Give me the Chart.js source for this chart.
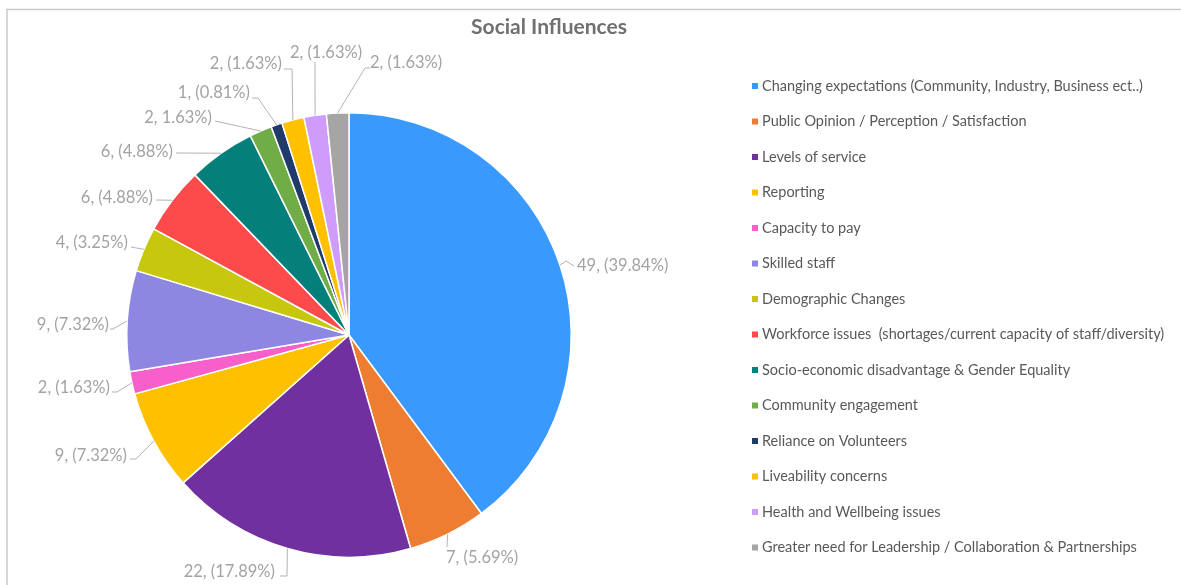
<!DOCTYPE html>
<html>
<head>
<meta charset="utf-8">
<title>Social Influences</title>
<script src="https://cdn.jsdelivr.net/npm/chart.js@4.4.1/dist/chart.umd.min.js"></script>
<style>
  html, body { margin: 0; padding: 0; background: #fff; }
  #chart { display: block; }
</style>
</head>
<body>
<canvas id="chart" width="1181" height="585"></canvas>
<script>
const categories = [
  'Changing expectations (Community, Industry, Business ect..)',
  'Public Opinion / Perception / Satisfaction',
  'Levels of service',
  'Reporting',
  'Capacity to pay',
  'Skilled staff',
  'Demographic Changes',
  'Workforce issues  (shortages/current capacity of staff/diversity)',
  'Socio-economic disadvantage & Gender Equality',
  'Community engagement',
  'Reliance on Volunteers',
  'Liveability concerns',
  'Health and Wellbeing issues',
  'Greater need for Leadership / Collaboration & Partnerships'
];
const counts = [49, 7, 22, 9, 2, 9, 4, 6, 6, 2, 1, 2, 2, 2];
const percentLabels = ['39.84', '5.69', '17.89', '7.32', '1.63', '7.32', '3.25', '4.88', '4.88', '1.63', '0.81', '1.63', '1.63', '1.63'];
const sliceColors = [
  '#3a99fd', '#ed7d31', '#7030a0', '#ffc000', '#f75fcb', '#8e87e2', '#c7c80d',
  '#fd4b4b', '#047f79', '#70ad47', '#203a6c', '#ffc000', '#cf9cfb', '#a5a5a5'
];

// where each value label sits and the bend points of its leader line
const labelLayout = [
  { x: 577, y: 266, align: 'left',   bend: [[566, 261], [574, 266]] },
  { x: 446, y: 558, align: 'left',   bend: [[447, 547]] },
  { x: 275, y: 572, align: 'right',  bend: [[287, 576], [280, 576]] },
  { x: 127, y: 456, align: 'right',  bend: [[136, 459], [130, 459]] },
  { x: 110, y: 388, align: 'right',  bend: [[117, 392], [112, 392]] },
  { x: 109, y: 325, align: 'right',  bend: [[113, 329], [110, 329]] },
  { x: 128, y: 243, align: 'right',  bend: [[131, 247]] },
  { x: 153, y: 198, align: 'right',  bend: [[156, 200]] },
  { x: 173, y: 152, align: 'right',  bend: [[176, 153]] },
  { x: 212, y: 118, align: 'right',  bend: [[215, 121]] },
  { x: 250, y: 93,  align: 'right',  bend: [[258, 98], [252, 98]] },
  { x: 282, y: 64,  align: 'right',  bend: [[292, 69], [284, 69]] },
  { x: 326, y: 53,  align: 'center', bend: [[315, 62]] },
  { x: 370, y: 63,  align: 'left',   bend: [[365, 68], [370, 68]] }
];

const FONT = 'Lato, "Open Sans", sans-serif';

function labelText(i) {
  // the Community engagement label was typed without its opening bracket
  if (i === 9) return counts[i] + ', ' + percentLabels[i] + '%)';
  return counts[i] + ', (' + percentLabels[i] + '%)';
}

const decorations = {
  id: 'decorations',
  afterDraw(chart) {
    const ctx = chart.ctx;
    ctx.save();

    // outer frame
    ctx.strokeStyle = '#c9c9c9';
    ctx.lineWidth = 1.5;
    ctx.strokeRect(7, 9.5, 1190, 590);

    // title
    ctx.fillStyle = '#707070';
    ctx.font = 'bold 21px ' + FONT;
    ctx.textAlign = 'center';
    ctx.textBaseline = 'middle';
    ctx.fillText('Social Influences', 549, 27);

    // legend
    ctx.font = '14.5px ' + FONT;
    ctx.textAlign = 'left';
    categories.forEach((name, i) => {
      const y = 86 + i * 35.5;
      ctx.fillStyle = sliceColors[i];
      ctx.fillRect(752, y - 3, 6, 6);
      ctx.fillStyle = '#595959';
      ctx.fillText(name, 762, y);
    });

    // value labels with leader lines
    const meta = chart.getDatasetMeta(0);
    ctx.font = '16.5px ' + FONT;
    meta.data.forEach((arc, i) => {
      const p = arc.getProps(['x', 'y', 'startAngle', 'endAngle', 'outerRadius'], true);
      const mid = (p.startAngle + p.endAngle) / 2;
      const sx = p.x + Math.cos(mid) * p.outerRadius;
      const sy = p.y + Math.sin(mid) * p.outerRadius;
      const lay = labelLayout[i];
      ctx.strokeStyle = '#b3b3b3';
      ctx.lineWidth = 1;
      ctx.beginPath();
      ctx.moveTo(sx, sy);
      lay.bend.forEach(pt => ctx.lineTo(pt[0], pt[1]));
      ctx.stroke();
      ctx.fillStyle = '#a3a3a3';
      ctx.textAlign = lay.align;
      ctx.fillText(labelText(i), lay.x, lay.y);
    });

    ctx.restore();
  }
};

new Chart(document.getElementById('chart'), {
  type: 'pie',
  data: {
    labels: categories,
    datasets: [{
      data: counts,
      backgroundColor: sliceColors,
      borderColor: '#ffffff',
      borderWidth: 1.5
    }]
  },
  options: {
    responsive: false,
    animation: false,
    layout: { padding: { left: 126, right: 609, top: 112, bottom: 27 } },
    plugins: {
      legend: { display: false },
      title: { display: false },
      tooltip: { enabled: false }
    }
  },
  plugins: [decorations]
});
</script>
</body>
</html>
